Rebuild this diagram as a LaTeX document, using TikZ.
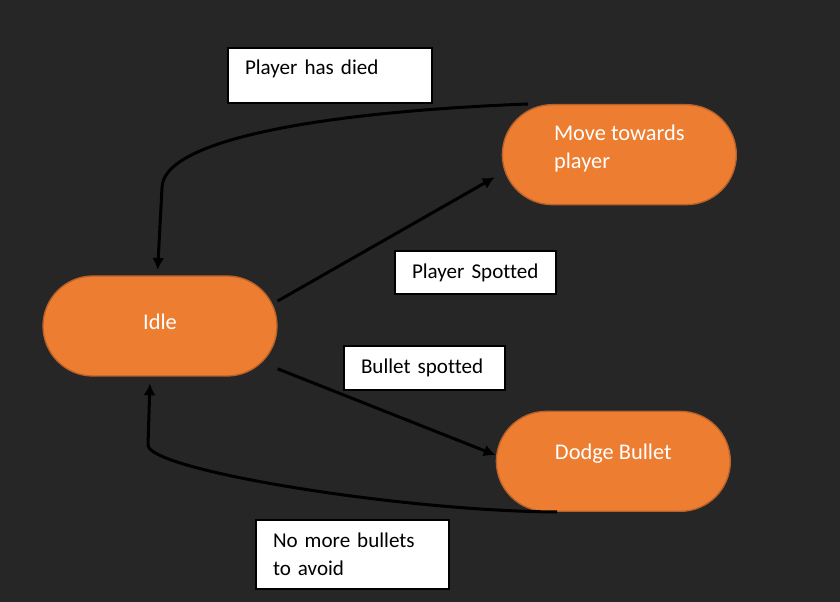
\documentclass[tikz,border=0pt]{standalone}
\usepackage{fontspec}
\setmainfont{Carlito}[Ligatures=NoCommon]
\usetikzlibrary{arrows.meta,positioning}
\definecolor{fundo}{HTML}{262626}
\definecolor{laranja}{HTML}{ED7D31}
\definecolor{borda}{HTML}{B8612A}

\begin{document}
\begin{tikzpicture}[>={Latex[length=9pt,width=9pt]},x=0.75pt,y=-0.75pt]
  \tikzstyle{state}=[draw=borda,line width=1pt,fill=laranja,rounded corners=37.5pt,minimum width=175.5pt,minimum height=75pt,align=left,text=white,font=\fontsize{16.8}{21}\selectfont]
  \tikzstyle{tag}=[draw,fill=white,line width=1.5pt,anchor=north west,align=left,inner xsep=12.75pt,font=\fontsize{15.8}{21}\selectfont]
  \tikzstyle{link}=[line width=2.25pt,->]
  \fill[fundo] (0,0) rectangle (840,602);
  \node[state,text depth=6.5pt] (idle) at (160,326) {Idle};
  \node[state,text depth=12pt,above right=52.5pt and 168pt of idle] (chase) {Move towards\\player};
  \node[state,text depth=14pt,below right=25.5pt and 163.5pt of idle] (dodge) {Dodge Bullet};
  \node[tag,text width=127.5pt,minimum height=41.25pt,text depth=13pt] (died) at (227,47) {Player has died};
  \node[tag,text width=95.25pt,minimum height=32.25pt] (seen) at (394,250) {Player Spotted};
  \node[tag,text width=95.25pt,minimum height=33pt] (shot) at (343,345) {Bullet spotted};
  \node[tag,text width=119.25pt,minimum height=51.75pt] (clear) at (255,519) {No more bullets\\to avoid};
  \draw[link,shorten >=4pt] (chase.151) .. controls (320,112) and (162,140) .. (162,188) -- (idle.93);
  \draw[link,shorten >=6pt] (idle.12) -- (chase.189);
  \draw[link] (idle.340) -- (dodge.177);
  \draw[link,shorten >=5pt] (dodge.222) .. controls (400,511) and (148,470) .. (148,445) -- (idle.259);
\end{tikzpicture}
\end{document}
